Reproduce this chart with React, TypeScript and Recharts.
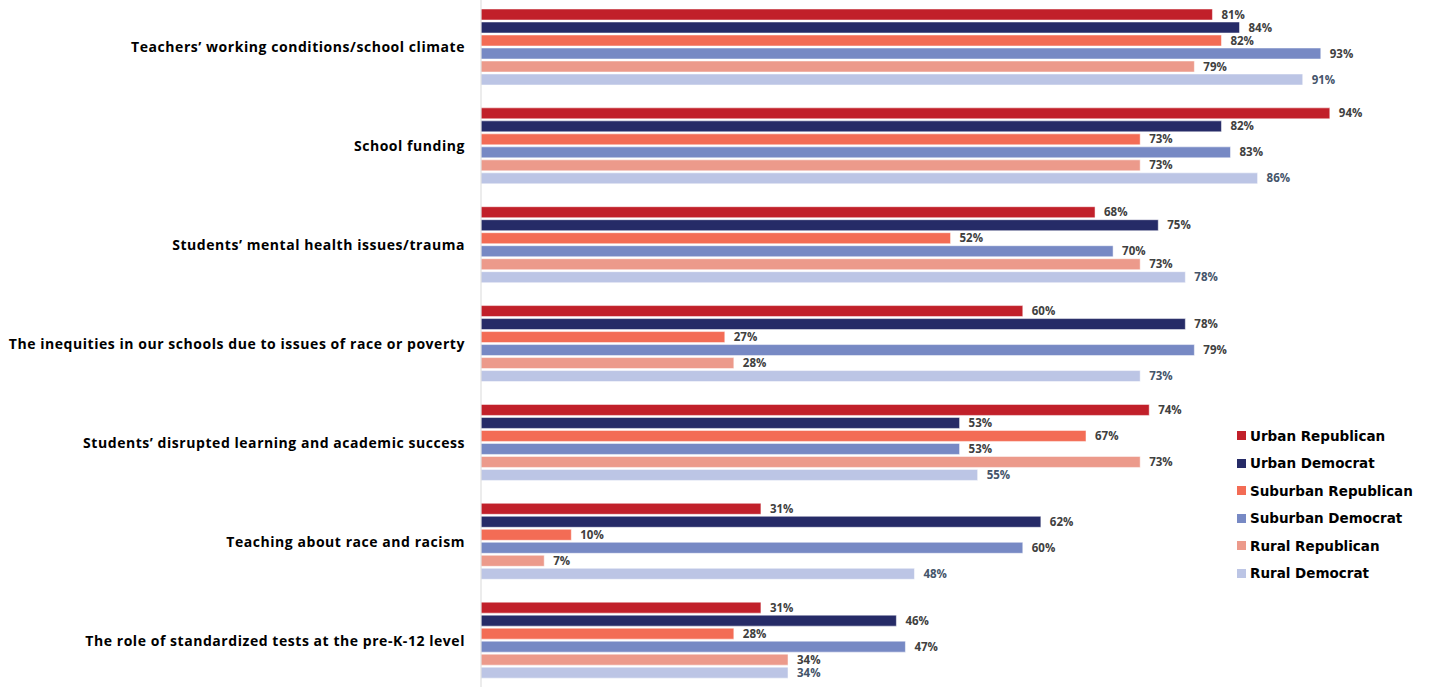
import React from "react";
import { BarChart, Bar, XAxis, YAxis, LabelList } from "recharts";

const FONT = "'Open Sans', 'DejaVu Sans', sans-serif";
const WIDE_FONT = "'DejaVu Sans', sans-serif";

const topics = [
  "Teachers’ working conditions/school climate",
  "School funding",
  "Students’ mental health issues/trauma",
  "The inequities in our schools due to issues of race or poverty",
  "Students’ disrupted learning and academic success",
  "Teaching about race and racism",
  "The role of standardized tests at the pre-K-12 level",
];

const urbanRepublican = [81, 94, 68, 60, 74, 31, 31];
const urbanDemocrat = [84, 82, 75, 78, 53, 62, 46];
const suburbanRepublican = [82, 73, 52, 27, 67, 10, 28];
const suburbanDemocrat = [93, 83, 70, 79, 53, 60, 47];
const ruralRepublican = [79, 73, 73, 28, 73, 7, 34];
const ruralDemocrat = [91, 86, 78, 73, 55, 48, 34];

const series = [
  { key: "urbanRep", name: "Urban Republican", color: "#C1202A", label: "#404040", values: urbanRepublican },
  { key: "urbanDem", name: "Urban Democrat", color: "#262B67", label: "#404040", values: urbanDemocrat },
  { key: "suburbanRep", name: "Suburban Republican", color: "#F36C55", label: "#404040", values: suburbanRepublican },
  { key: "suburbanDem", name: "Suburban Democrat", color: "#7789C4", label: "#404040", values: suburbanDemocrat },
  { key: "ruralRep", name: "Rural Republican", color: "#EC9A8B", label: "#404040", values: ruralRepublican },
  { key: "ruralDem", name: "Rural Democrat", color: "#BCC5E5", label: "#44546A", values: ruralDemocrat },
];

const rows = topics.map((topic, i) => {
  const row: Record<string, string | number> = { topic };
  series.forEach((s) => {
    row[s.key] = s.values[i];
  });
  return row;
});

function LegendBox() {
  return (
    <div style={{ position: "absolute", left: 1237, top: 424 }}>
      {series.map((s) => (
        <div
          key={s.key}
          style={{ display: "flex", alignItems: "center", height: 27.5 }}
        >
          <span
            style={{
              width: 9,
              height: 9,
              background: s.color,
              marginRight: 4,
              display: "inline-block",
            }}
          />
          <span
            style={{
              fontFamily: WIDE_FONT,
              fontWeight: 700,
              fontSize: 13.5,
              color: "#000",
              whiteSpace: "nowrap",
            }}
          >
            {s.name}
          </span>
        </div>
      ))}
    </div>
  );
}

export default function App() {
  return (
    <div
      style={{
        position: "absolute",
        left: 0,
        top: -2,
        width: 1431,
        height: 692,
        background: "#fff",
      }}
    >
      <BarChart
        width={1431}
        height={692}
        data={rows}
        layout="vertical"
        margin={{ top: 0, right: 47, bottom: 0, left: 0 }}
        barSize={11}
        barGap={2}
      >
        <XAxis type="number" domain={[0, 100]} hide />
        <YAxis
          type="category"
          dataKey="topic"
          width={481}
          tickLine={false}
          tickSize={0}
          tickMargin={16}
          axisLine={{ stroke: "#D9D9D9" }}
          tick={{
            fill: "#000",
            fontSize: 14,
            fontWeight: 700,
            fontFamily: FONT,
            letterSpacing: 0.55,
          }}
        />
        {series.map((s) => (
          <Bar
            key={s.key}
            dataKey={s.key}
            name={s.name}
            fill={s.color}
            stroke="#fff"
            strokeWidth={0.5}
            isAnimationActive={false}
          >
            <LabelList
              dataKey={s.key}
              position="right"
              offset={9}
              formatter={(v: number) => `${v}%`}
              style={{
                fill: s.label,
                fontSize: 11.5,
                fontWeight: 700,
                fontFamily: FONT,
              }}
            />
          </Bar>
        ))}
      </BarChart>
      <LegendBox />
    </div>
  );
}
